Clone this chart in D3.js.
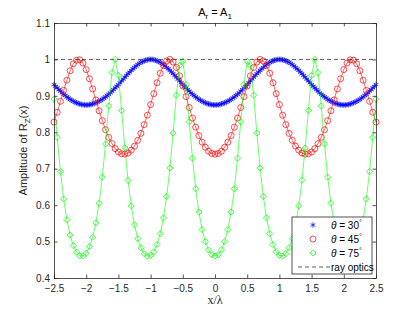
<!DOCTYPE html>
<html>
<head>
<meta charset="utf-8">
<script src="https://cdn.jsdelivr.net/npm/d3@7/dist/d3.min.js"></script>
<style>
  body { margin: 0; background: #fff; }
  svg { font-family: "Liberation Sans", Arial, sans-serif; }
</style>
</head>
<body>
<svg id="chart" width="415" height="312"></svg>
<script>
// sample grid along x/lambda
const xStart = -2.5;
const step30 = 0.025;
const step45 = 0.05;
const step75 = 0.05;

const xTicks = [-2.5, -2, -1.5, -1, -0.5, 0, 0.5, 1, 1.5, 2, 2.5];
const yTicks = [0.4, 0.5, 0.6, 0.7, 0.8, 0.9, 1, 1.1];
const rayOptics = 1;

// theta = 30 deg
const amp30 = [
  0.931,0.926,0.922,0.917,0.913,0.908,0.904,0.901,0.897,0.894,0.890,0.888,0.885,0.883,0.881,0.879,0.878,0.876,0.876,0.875,0.875,
  0.875,0.876,0.876,0.878,0.879,0.881,0.883,0.885,0.888,0.890,0.894,0.897,0.901,0.904,0.908,0.913,0.917,0.922,0.926,0.931,
  0.936,0.941,0.946,0.951,0.956,0.961,0.965,0.970,0.974,0.978,0.982,0.986,0.989,0.992,0.994,0.996,0.998,0.999,1.000,1.000,
  1.000,0.999,0.998,0.996,0.994,0.992,0.989,0.986,0.982,0.978,0.974,0.970,0.965,0.961,0.956,0.951,0.946,0.941,0.936,0.931,
  0.926,0.922,0.917,0.913,0.908,0.904,0.901,0.897,0.894,0.890,0.888,0.885,0.883,0.881,0.879,0.878,0.876,0.876,0.875,0.875,
  0.875,0.876,0.876,0.878,0.879,0.881,0.883,0.885,0.888,0.890,0.894,0.897,0.901,0.904,0.908,0.913,0.917,0.922,0.926,0.931,
  0.936,0.941,0.946,0.951,0.956,0.961,0.965,0.970,0.974,0.978,0.982,0.986,0.989,0.992,0.994,0.996,0.998,0.999,1.000,1.000,
  1.000,0.999,0.998,0.996,0.994,0.992,0.989,0.986,0.982,0.978,0.974,0.970,0.965,0.961,0.956,0.951,0.946,0.941,0.936,0.931,
  0.926,0.922,0.917,0.913,0.908,0.904,0.901,0.897,0.894,0.890,0.888,0.885,0.883,0.881,0.879,0.878,0.876,0.876,0.875,0.875,
  0.875,0.876,0.876,0.878,0.879,0.881,0.883,0.885,0.888,0.890,0.894,0.897,0.901,0.904,0.908,0.913,0.917,0.922,0.926,0.931
];

// theta = 45 deg
const amp45 = [
  0.828,0.855,0.885,0.915,0.943,0.969,0.988,0.998,0.999,0.990,
  0.972,0.947,0.919,0.889,0.859,0.832,0.807,0.786,0.769,0.755,
  0.746,0.741,0.740,0.743,0.751,0.762,0.778,0.797,0.821,0.847,
  0.876,0.906,0.936,0.962,0.983,0.996,1.000,0.993,0.978,0.955,
  0.927,0.898,0.868,0.839,0.814,0.791,0.773,0.759,0.748,0.742,
  0.740,
  0.742,0.748,0.759,0.773,0.791,0.814,0.839,0.868,0.898,0.927,
  0.955,0.978,0.993,1.000,0.996,0.983,0.962,0.936,0.906,0.876,
  0.847,0.821,0.797,0.778,0.762,0.751,0.743,0.740,0.741,0.746,
  0.755,0.769,0.786,0.807,0.832,0.859,0.889,0.919,0.947,0.972,
  0.990,0.999,0.998,0.988,0.969,0.943,0.915,0.885,0.855,0.828
];

// theta = 75 deg
const amp75 = [
  0.891,0.786,0.692,0.617,0.560,0.518,0.489,0.471,0.461,0.461,
  0.468,0.486,0.512,0.551,0.605,0.677,0.768,0.872,0.964,1.000,
  0.956,0.860,0.757,0.668,0.598,0.546,0.508,0.483,0.467,0.460,
  0.462,0.472,0.492,0.522,0.565,0.624,0.702,0.798,0.902,0.983,
  0.995,0.931,0.829,0.729,0.645,0.581,0.533,0.500,0.477,0.464,
  0.460,
  0.464,0.477,0.500,0.533,0.581,0.645,0.729,0.829,0.931,0.995,
  0.983,0.902,0.798,0.702,0.624,0.565,0.522,0.492,0.472,0.462,
  0.460,0.467,0.483,0.508,0.546,0.598,0.668,0.757,0.860,0.956,
  1.000,0.964,0.872,0.768,0.677,0.605,0.551,0.512,0.486,0.468,
  0.461,0.461,0.471,0.489,0.518,0.560,0.617,0.692,0.786,0.891
];

const W = 415, H = 312;
const margin = { top: 23, right: 39, bottom: 34, left: 54 };
const width = W - margin.left - margin.right;
const height = H - margin.top - margin.bottom;
const axisColor = "#262626";

const toPoints = (vals, st) => vals.map((v, i) => ({ x: xStart + i * st, y: v }));

const series = [
  { key: "30", color: "#0000ff", marker: "star", pts: toPoints(amp30, step30) },
  { key: "45", color: "#ff0000", marker: "circle", pts: toPoints(amp45, step45) },
  { key: "75", color: "#00ff00", marker: "diamond", pts: toPoints(amp75, step75) }
];

const x = d3.scaleLinear().domain([-2.5, 2.5]).range([0, width]);
const y = d3.scaleLinear().domain([0.4, 1.1]).range([height, 0]);

const svg = d3.select("#chart");
const g = svg.append("g").attr("transform", `translate(${margin.left},${margin.top})`);

// markers
const drawMarker = (sel, type, color) => {
  if (type === "circle") {
    sel.append("circle").attr("r", 3).attr("fill", "none").attr("stroke", color).attr("stroke-width", 0.7);
  } else if (type === "diamond") {
    sel.append("path")
      .attr("d", d3.symbol(d3.symbolSquare, 19)())
      .attr("transform", "rotate(45)")
      .attr("fill", "none").attr("stroke", color).attr("stroke-width", 0.7);
  } else {
    sel.append("path")
      .attr("d", d3.symbol(d3.symbolAsterisk, 22)())
      .attr("fill", "none").attr("stroke", color).attr("stroke-width", 0.7);
  }
};

const line = d3.line().x(d => x(d.x)).y(d => y(d.y));

series.forEach(s => {
  const sg = g.append("g");
  sg.append("path")
    .datum(s.pts)
    .attr("d", line)
    .attr("fill", "none")
    .attr("stroke", s.color)
    .attr("stroke-width", 0.6);
  sg.selectAll("g.m")
    .data(s.pts)
    .enter()
    .append("g")
    .attr("class", "m")
    .attr("transform", d => `translate(${x(d.x)},${y(d.y)})`)
    .each(function () { drawMarker(d3.select(this), s.marker, s.color); });
});

// ray optics line
g.append("line")
  .attr("x1", x(-2.5)).attr("x2", x(2.5))
  .attr("y1", y(rayOptics)).attr("y2", y(rayOptics))
  .attr("stroke", "#333")
  .attr("stroke-width", 0.8)
  .attr("stroke-dasharray", "4,3");

// axes (inward ticks, box)
const styleAxis = sel => {
  sel.select(".domain").attr("stroke", axisColor).attr("stroke-width", 0.8);
  sel.selectAll(".tick line").attr("stroke", axisColor).attr("stroke-width", 0.8);
  sel.selectAll("text").attr("fill", axisColor).style("font-size", "10px")
    .style("font-family", '"Liberation Sans", Arial, sans-serif');
};

g.append("g")
  .attr("transform", `translate(0,${height})`)
  .call(d3.axisBottom(x).tickValues(xTicks).tickSizeInner(-3.5).tickSizeOuter(0).tickPadding(7).tickFormat(d3.format("")))
  .call(styleAxis);

g.append("g")
  .call(d3.axisTop(x).tickValues(xTicks).tickSizeInner(-3.5).tickSizeOuter(0).tickFormat(""))
  .call(styleAxis);

g.append("g")
  .call(d3.axisLeft(y).tickValues(yTicks).tickSizeInner(-3.5).tickSizeOuter(0).tickPadding(4).tickFormat(d3.format("")))
  .call(styleAxis);

g.append("g")
  .attr("transform", `translate(${width},0)`)
  .call(d3.axisRight(y).tickValues(yTicks).tickSizeInner(-3.5).tickSizeOuter(0).tickFormat(""))
  .call(styleAxis);

// title
const title = svg.append("text")
  .attr("x", margin.left + width / 2)
  .attr("y", 16)
  .attr("text-anchor", "middle")
  .attr("fill", "#000")
  .style("font-size", "11px");
title.append("tspan").text("A");
title.append("tspan").attr("dy", 3).style("font-size", "8px").text("r");
title.append("tspan").attr("dy", -3).text(" = A");
title.append("tspan").attr("dy", 3).style("font-size", "8px").text("1");

// axis labels
svg.append("text")
  .attr("x", margin.left + width / 2)
  .attr("y", 304)
  .attr("text-anchor", "middle")
  .attr("fill", axisColor)
  .style("font-family", '"Liberation Serif", "DejaVu Serif", serif')
  .style("font-size", "12px")
  .text("x/λ");

const yLab = svg.append("text")
  .attr("transform", `translate(27,${margin.top + height / 2}) rotate(-90)`)
  .attr("text-anchor", "middle")
  .attr("fill", axisColor)
  .style("font-size", "11px");
yLab.append("tspan").text("Amplitude of R");
yLab.append("tspan").attr("dy", 3).style("font-size", "8px").text("Z");
yLab.append("tspan").attr("dy", -3).text("(x)");

// legend
const legendItems = [
  { label: "30", color: "#0000ff", marker: "star" },
  { label: "45", color: "#ff0000", marker: "circle" },
  { label: "75", color: "#00ff00", marker: "diamond" },
  { label: "ray optics", color: "#333", marker: "dash" }
];

const legend = svg.append("g").attr("transform", "translate(292,217)");
legend.append("rect")
  .attr("width", 80).attr("height", 57)
  .attr("fill", "#fff")
  .attr("stroke", axisColor)
  .attr("stroke-width", 0.8);

legend.selectAll("g.item")
  .data(legendItems)
  .enter()
  .append("g")
  .attr("class", "item")
  .attr("transform", (d, i) => `translate(0,${8 + i * 14})`)
  .each(function (d) {
    const it = d3.select(this);
    if (d.marker === "dash") {
      it.append("line")
        .attr("x1", 6).attr("x2", 38).attr("y1", 0).attr("y2", 0)
        .attr("stroke", d.color).attr("stroke-width", 0.8).attr("stroke-dasharray", "4,3");
      it.append("text").attr("x", 39).attr("y", 3.5)
        .attr("fill", "#000").style("font-size", "10px").text(d.label);
    } else {
      const m = it.append("g").attr("transform", "translate(21,0)");
      drawMarker(m, d.marker, d.color);
      const t = it.append("text").attr("x", 39).attr("y", 3.5)
        .attr("fill", "#000").style("font-size", "10px");
      t.append("tspan").style("font-style", "italic").text("θ");
      t.append("tspan").text(" = " + d.label);
      t.append("tspan").attr("dy", -4).style("font-size", "7px").text("°");
    }
  });
</script>
</body>
</html>
